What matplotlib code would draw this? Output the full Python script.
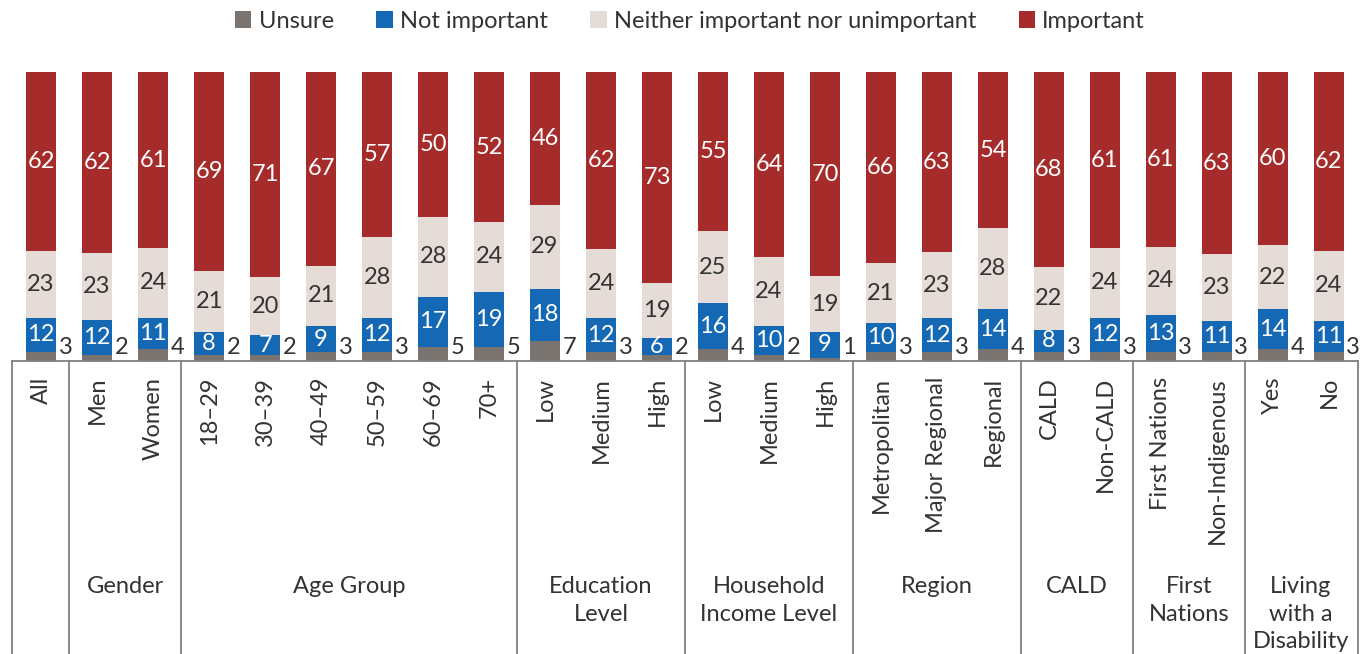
import numpy as np
import matplotlib
matplotlib.use("Agg")
import matplotlib.pyplot as plt
import matplotlib.transforms as mtransforms
from matplotlib.patches import Patch

plt.rcParams['font.family'] = ['Lato', 'DejaVu Sans']

# categories and values (percent)
categories = ['All', 'Men', 'Women', '18–29', '30–39', '40–49', '50–59', '60–69', '70+',
              'Low', 'Medium', 'High', 'Low', 'Medium', 'High',
              'Metropolitan', 'Major Regional', 'Regional', 'CALD', 'Non-CALD',
              'First Nations', 'Non-Indigenous', 'Yes', 'No']
unsure = [3, 2, 4, 2, 2, 3, 3, 5, 5, 7, 3, 2, 4, 2, 1, 3, 3, 4, 3, 3, 3, 3, 4, 3]
not_important = [12, 12, 11, 8, 7, 9, 12, 17, 19, 18, 12, 6, 16, 10, 9, 10, 12, 14, 8, 12, 13, 11, 14, 11]
neither = [23, 23, 24, 21, 20, 21, 28, 28, 24, 29, 24, 19, 25, 24, 19, 21, 23, 28, 22, 24, 24, 23, 22, 24]
important = [62, 62, 61, 69, 71, 67, 57, 50, 52, 46, 62, 73, 55, 64, 70, 66, 63, 54, 68, 61, 61, 63, 60, 62]

groups = ['', 'Gender', 'Age Group', 'Education\nLevel', 'Household\nIncome Level',
          'Region', 'CALD', 'First\nNations', 'Living\nwith a\nDisability']
group_sizes = [1, 2, 6, 3, 3, 3, 2, 2, 2]

series_names = ['Unsure', 'Not important', 'Neither important nor unimportant', 'Important']
colors = ['#7a7471', '#1569b4', '#e6dcd7', '#a62c2c']
text_colors = ['#333333', 'white', '#333333', 'white']

data = np.array([unsure, not_important, neither, important], dtype=float)
share = data / data.sum(axis=0) * 100

fig = plt.figure(figsize=(13.64, 6.54), dpi=100)
W, H = 1364, 654
ax = fig.add_axes([12 / W, (H - 361) / H, (1358 - 12) / W, (361 - 72) / H])

x = np.arange(len(categories))
width = 0.545
bottom = np.zeros(len(categories))
for k in range(4):
    ax.bar(x, share[k], width, bottom=bottom, color=colors[k], edgecolor='none')
    for i in range(len(categories)):
        if k == 0:
            ax.text(x[i] + width / 2 + 0.04, 4.8, str(int(data[k, i])), ha='left', va='center',
                    fontsize=17, color='#333333')
        else:
            ax.text(x[i], bottom[i] + share[k, i] / 2, str(int(data[k, i])), ha='center', va='center',
                    fontsize=17, color=text_colors[k])
    bottom += share[k]

ax.set_xlim(-0.52, 23.52)
ax.set_ylim(0, 100)
ax.axis('off')

# table below the bars
trans = mtransforms.blended_transform_factory(ax.transData, ax.transAxes)
line_kw = dict(color='#808080', lw=1.3, clip_on=False, transform=trans)
ax.plot([-0.52, 23.52], [0, 0], **line_kw)
bottom_y = -(654 - 361) / 289
edges = np.concatenate([[-0.52], np.cumsum(group_sizes)[:-1] - 0.5, [23.52]])
for e in edges:
    ax.plot([e, e], [0, bottom_y], **line_kw)

for i, c in enumerate(categories):
    ax.text(x[i], -0.055, c, rotation=90, ha='center', va='top', fontsize=17,
            color='#333333', transform=trans)

start = 0
for g, n in zip(groups, group_sizes):
    center = start + (n - 1) / 2
    ax.text(center, -0.745, g, ha='center', va='top', fontsize=17, color='#333333',
            linespacing=1.38, transform=trans)
    start += n

handles = [Patch(facecolor=c, edgecolor='none') for c in colors]
fig.legend(handles, series_names, loc='center', bbox_to_anchor=(690 / W, 1 - 21 / H), ncol=4,
           frameon=False, fontsize=17, handlelength=0.7, handleheight=0.7, handletextpad=0.3,
           columnspacing=1.8, labelcolor='#333333')

fig.savefig('out.png', dpi=100)
